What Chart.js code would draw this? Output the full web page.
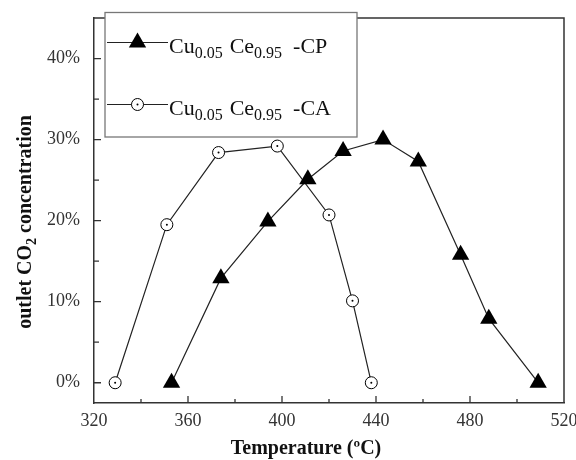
<!DOCTYPE html>
<html>
<head>
<meta charset="utf-8">
<script src="https://cdn.jsdelivr.net/npm/chart.js@4/dist/chart.umd.min.js"></script>
<style>
  html, body { margin: 0; padding: 0; background: #fff; }
  #wrap { width: 576px; height: 460px; }
</style>
</head>
<body>
<div id="wrap"><canvas id="co2Chart" width="576" height="460"></canvas></div>
<script>
// データ
const cpTemps  = [353, 374, 394, 411, 426, 443, 458, 476, 488, 509];
const cpValues = [0, 12.9, 19.9, 25.1, 28.6, 30.0, 27.3, 15.8, 7.9, 0];
const caTemps  = [329, 351, 373, 398, 420, 430, 438];
const caValues = [0, 19.5, 28.4, 29.2, 20.7, 10.1, 0];
const xTickLabels = [320, 360, 400, 440, 480, 520];
const yTickLabels = [0, 10, 20, 30, 40];
const seriesLabels = ['CP', 'CA'];

const SERIF = '"Liberation Serif", "Times New Roman", serif';

function toPoints(xs, ys) {
    return xs.map((x, i) => ({ x: x, y: ys[i] }));
}

// --- 枠と内向きの目盛り ---
const frameAndTicks = {
    id: 'frameAndTicks',
    afterDraw(chart) {
        const { ctx, chartArea: a, scales: { x, y } } = chart;
        ctx.save();
        ctx.strokeStyle = '#333';
        ctx.lineWidth = 1.5;
        ctx.beginPath();
        ctx.moveTo(a.left, a.top);
        ctx.lineTo(a.right, a.top);
        ctx.lineTo(a.right, a.bottom);
        ctx.stroke();

        ctx.lineWidth = 1.3;
        ctx.beginPath();
        x.ticks.forEach(t => {
            if (t.value <= x.min || t.value >= x.max) return;
            const px = x.getPixelForValue(t.value);
            const len = xTickLabels.includes(t.value) ? 7 : 4;
            ctx.moveTo(px, a.bottom);
            ctx.lineTo(px, a.bottom - len);
        });
        y.ticks.forEach(t => {
            if (t.value <= y.min || t.value >= y.max) return;
            const py = y.getPixelForValue(t.value);
            const len = yTickLabels.includes(t.value) ? 7 : 5;
            ctx.moveTo(a.left, py);
            ctx.lineTo(a.left + len, py);
        });
        ctx.stroke();
        ctx.restore();
    }
};

// --- 軸タイトル（下付き文字つき） ---
function drawRich(ctx, parts, x, y) {
    let cx = x;
    parts.forEach(([txt, sub, font, dy, gap]) => {
        ctx.font = font;
        ctx.fillText(txt, cx, y + (dy || 0));
        cx += ctx.measureText(txt).width + (gap || 0);
    });
    return cx - x;
}

function richWidth(ctx, parts) {
    let w = 0;
    parts.forEach(([txt, sub, font, dy, gap]) => {
        ctx.font = font;
        w += ctx.measureText(txt).width + (gap || 0);
    });
    return w;
}

const axisTitles = {
    id: 'axisTitles',
    afterDraw(chart) {
        const ctx = chart.ctx;
        ctx.save();
        ctx.fillStyle = '#111';
        ctx.textBaseline = 'alphabetic';
        ctx.textAlign = 'left';

        // x軸タイトル
        const bold = 'bold 20px ' + SERIF;
        const xParts = [['Temperature (ºC)', false, bold]];
        const xw = richWidth(ctx, xParts);
        drawRich(ctx, xParts, 306 - xw / 2, 454);

        // y軸タイトル
        const sub = 'bold 14px ' + SERIF;
        const yParts = [
            ['outlet CO', false, bold],
            ['2', true, sub, 5],
            [' concentration', false, bold]
        ];
        const yw = richWidth(ctx, yParts);
        ctx.translate(31, 222);
        ctx.rotate(-Math.PI / 2);
        drawRich(ctx, yParts, -yw / 2, 0);
        ctx.restore();
    }
};

// --- 凡例（線＋マーカー＋下付き文字） ---
function drawMarker(ctx, style, x, y) {
    ctx.save();
    ctx.strokeStyle = '#000';
    ctx.lineWidth = 1;
    if (style === 'triangle') {
        const r = 10;
        ctx.fillStyle = '#000';
        ctx.beginPath();
        for (let k = 0; k < 3; k++) {
            const ang = k * 2 * Math.PI / 3;
            const px = x + Math.sin(ang) * r;
            const py = y - Math.cos(ang) * r;
            if (k === 0) ctx.moveTo(px, py); else ctx.lineTo(px, py);
        }
        ctx.closePath();
        ctx.fill();
    } else {
        ctx.fillStyle = '#fff';
        ctx.beginPath();
        ctx.arc(x, y, 6, 0, Math.PI * 2);
        ctx.fill();
        ctx.stroke();
        ctx.fillStyle = '#000';
        ctx.beginPath();
        ctx.arc(x, y, 1, 0, Math.PI * 2);
        ctx.fill();
    }
    ctx.restore();
}

const legendBox = {
    id: 'legendBox',
    afterDraw(chart) {
        const ctx = chart.ctx;
        ctx.save();
        ctx.fillStyle = '#fff';
        ctx.fillRect(105, 12.5, 252, 124.5);
        ctx.strokeStyle = '#777';
        ctx.lineWidth = 1.3;
        ctx.strokeRect(105, 12.5, 252, 124.5);

        const rows = [
            { style: 'triangle', y: 42.5, tag: seriesLabels[0] },
            { style: 'circle', y: 104.5, tag: seriesLabels[1] }
        ];
        const main = '22px ' + SERIF;
        const small = '16px ' + SERIF;
        rows.forEach(r => {
            ctx.strokeStyle = '#222';
            ctx.lineWidth = 1.2;
            ctx.beginPath();
            ctx.moveTo(107, r.y);
            ctx.lineTo(168, r.y);
            ctx.stroke();
            drawMarker(ctx, r.style, 137.5, r.y);

            ctx.fillStyle = '#111';
            ctx.textAlign = 'left';
            ctx.textBaseline = 'alphabetic';
            drawRich(ctx, [
                ['Cu', false, main],
                ['0.05', true, small, 5, 7],
                ['Ce', false, main],
                ['0.95', true, small, 5, 11],
                ['-' + r.tag, false, main]
            ], 169, r.y + 10);
        });
        ctx.restore();
    }
};

const ctx = document.getElementById('co2Chart').getContext('2d');
new Chart(ctx, {
    type: 'line',
    data: {
        datasets: [
            {
                // CAマーカー中心の点
                label: 'CA dot',
                data: toPoints(caTemps, caValues),
                showLine: false,
                pointStyle: 'circle',
                pointRadius: 1,
                pointBackgroundColor: '#000',
                pointBorderWidth: 0,
                order: 0
            },
            {
                label: 'Cu0.05 Ce0.95 -' + seriesLabels[0],
                data: toPoints(cpTemps, cpValues),
                borderColor: '#222',
                borderWidth: 1.2,
                pointStyle: 'triangle',
                pointRadius: 10,
                pointBackgroundColor: '#000',
                pointBorderColor: '#000',
                pointBorderWidth: 0,
                tension: 0,
                order: 1
            },
            {
                label: 'Cu0.05 Ce0.95 -' + seriesLabels[1],
                data: toPoints(caTemps, caValues),
                borderColor: '#222',
                borderWidth: 1.2,
                pointStyle: 'circle',
                pointRadius: 6,
                pointBackgroundColor: '#fff',
                pointBorderColor: '#000',
                pointBorderWidth: 1,
                tension: 0,
                order: 2
            }
        ]
    },
    options: {
        responsive: false,
        animation: false,
        layout: { autoPadding: false, padding: { left: 0, top: 18, right: 12, bottom: 0 } },
        plugins: {
            legend: { display: false },
            tooltip: { enabled: false }
        },
        scales: {
            x: {
                type: 'linear',
                min: 320,
                max: 520,
                grid: { display: false, drawTicks: false },
                border: { display: true, color: '#333', width: 1.5 },
                ticks: {
                    stepSize: 20,
                    padding: 7,
                    color: '#333',
                    font: { family: SERIF, size: 18 },
                    maxRotation: 0,
                    autoSkip: false,
                    callback: v => xTickLabels.includes(v) ? String(v) : ''
                },
                afterFit: s => {
                    s.height = 57;
                    s.paddingLeft = 0;
                    s.paddingRight = 0;
                }
            },
            y: {
                min: -2.5,
                max: 45,
                grid: { display: false, drawTicks: false },
                border: { display: true, color: '#333', width: 1.5 },
                ticks: {
                    stepSize: 5,
                    includeBounds: false,
                    padding: 14,
                    color: '#333',
                    font: { family: SERIF, size: 18 },
                    autoSkip: false,
                    callback: v => yTickLabels.includes(v) ? v + '%' : ''
                },
                afterFit: s => {
                    s.width = 94;
                    s.paddingTop = 0;
                    s.paddingBottom = 0;
                }
            }
        }
    },
    plugins: [frameAndTicks, axisTitles, legendBox]
});
</script>
</body>
</html>
